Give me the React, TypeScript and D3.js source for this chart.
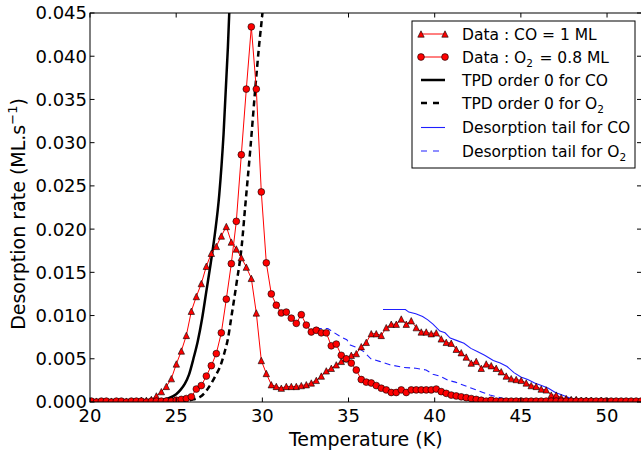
import React from 'react';
import * as d3 from 'd3';

// Sample temperatures (K) shared by both measured series
const temperatureK = [
  20.08, 20.37, 20.66, 20.95, 21.24, 21.53, 21.82, 22.11, 22.40, 22.69,
  22.98, 23.27, 23.56, 23.85, 24.14, 24.43, 24.72, 25.01, 25.30, 25.59,
  25.88, 26.17, 26.46, 26.75, 27.04, 27.33, 27.62, 27.91, 28.20, 28.49,
  28.78, 29.07, 29.36, 29.65, 29.94, 30.23, 30.52, 30.81, 31.10, 31.39,
  31.68, 31.97, 32.26, 32.55, 32.84, 33.13, 33.42, 33.71, 34.00, 34.29,
  34.58, 34.87, 35.16, 35.45, 35.74, 36.03, 36.32, 36.61, 36.90, 37.19,
  37.48, 37.77, 38.06, 38.35, 38.64, 38.93, 39.22, 39.51, 39.80, 40.09,
  40.38, 40.67, 40.96, 41.25, 41.54, 41.83, 42.12, 42.41, 42.70, 42.99,
  43.28, 43.57, 43.86, 44.15, 44.44, 44.73, 45.02, 45.31, 45.60, 45.89,
  46.18, 46.47, 46.76, 47.05, 47.34, 47.63, 47.92, 48.21, 48.50, 48.79,
  49.08, 49.37, 49.66, 49.95, 50.24, 50.53, 50.82, 51.11, 51.40, 51.69,
  51.98,
];

// Measured desorption rate, CO = 1 ML (ML/s)
const coRate = [
  0.0001, 0.0001, 0.0000, 0.0001, 0.0001, 0.0001, 0.0000, 0.0001, 0.0001, 0.0001,
  0.0002, 0.0002, 0.0003, 0.0007, 0.0012, 0.0018, 0.0027, 0.0044, 0.0059, 0.0077,
  0.0105, 0.0122, 0.0137, 0.0157, 0.0172, 0.0180, 0.0192, 0.0203, 0.0185, 0.0177,
  0.0167, 0.0156, 0.0143, 0.0103, 0.0048, 0.0033, 0.0020, 0.0018, 0.0016, 0.0018,
  0.0018, 0.0018, 0.0019, 0.0020, 0.0022, 0.0025, 0.0030, 0.0036, 0.0039, 0.0043,
  0.0047, 0.0050, 0.0054, 0.0056, 0.0064, 0.0069, 0.0079, 0.0079, 0.0077, 0.0086,
  0.0090, 0.0090, 0.0096, 0.0090, 0.0094, 0.0086, 0.0081, 0.0081, 0.0079, 0.0080,
  0.0073, 0.0069, 0.0068, 0.0061, 0.0057, 0.0052, 0.0045, 0.0047, 0.0039, 0.0044,
  0.0042, 0.0039, 0.0035, 0.0030, 0.0027, 0.0026, 0.0025, 0.0022, 0.0019, 0.0018,
  0.0015, 0.0014, 0.0008, 0.0008, 0.0005, 0.0004, 0.0003, 0.0003, 0.0002, 0.0002,
  0.0002, 0.0001, 0.0002, 0.0001, 0.0001, 0.0001, 0.0001, 0.0001, 0.0001, 0.0001,
  0.0001,
];

// Measured desorption rate, O2 = 0.8 ML (ML/s)
const o2Rate = [
  0.0001, 0.0000, 0.0001, 0.0001, 0.0000, 0.0001, 0.0001, 0.0000, 0.0001, 0.0001,
  0.0001, 0.0000, 0.0001, 0.0001, 0.0001, 0.0001, 0.0001, 0.0002, 0.0003, 0.0004,
  0.0006, 0.0015, 0.0019, 0.0030, 0.0042, 0.0056, 0.0080, 0.0119, 0.0160, 0.0209,
  0.0286, 0.0362, 0.0434, 0.0362, 0.0243, 0.0161, 0.0125, 0.0112, 0.0103, 0.0104,
  0.0097, 0.0091, 0.0101, 0.0089, 0.0081, 0.0083, 0.0080, 0.0080, 0.0065, 0.0067,
  0.0054, 0.0050, 0.0045, 0.0037, 0.0026, 0.0023, 0.0022, 0.0019, 0.0016, 0.0014,
  0.0011, 0.0011, 0.0014, 0.0011, 0.0014, 0.0014, 0.0014, 0.0014, 0.0014, 0.0015,
  0.0012, 0.0010, 0.0008, 0.0007, 0.0006, 0.0005, 0.0004, 0.0003, 0.0002, 0.0001,
  0.0002, 0.0001, 0.0001, 0.0001, 0.0001, 0.0001, 0.0001, 0.0001, 0.0001, 0.0001,
  0.0001, 0.0001, 0.0001, 0.0001, 0.0001, 0.0001, 0.0001, 0.0001, 0.0001, 0.0001,
  0.0001, 0.0001, 0.0001, 0.0001, 0.0001, 0.0001, 0.0001, 0.0001, 0.0001, 0.0001,
  0.0001,
];

// Zero-order TPD model, CO
const tpdCoT = [20.0, 22.0, 23.0, 23.5, 24.0, 24.5, 25.0, 25.25, 25.5, 25.75, 26.0, 26.25, 26.5, 26.75, 27.0, 27.25, 27.5, 27.75, 28.0, 28.1, 28.2];
const tpdCoRate = [0.0, 0.0, 0.0001, 0.0001, 0.0002, 0.0004, 0.0009, 0.0014, 0.0021, 0.0032, 0.0050, 0.0070, 0.0096, 0.0128, 0.0160, 0.0195, 0.0240, 0.0310, 0.0410, 0.0460, 0.0520];

// Zero-order TPD model, O2
const tpdO2T = [20.0, 23.0, 25.0, 25.5, 26.0, 26.4, 26.75, 27.05, 27.3, 27.55, 27.8, 28.0, 28.2, 28.5, 28.8, 29.0, 29.3, 29.6, 29.8, 30.05, 30.2];
const tpdO2Rate = [0.0, 0.0, 0.0, 0.0001, 0.0003, 0.0006, 0.0013, 0.0022, 0.0031, 0.0041, 0.0057, 0.0073, 0.0098, 0.0137, 0.0180, 0.0225, 0.0292, 0.0365, 0.0410, 0.0460, 0.0500];

// Desorption tail, CO
const tailCoT = [37.0, 38.3, 38.5, 38.9, 39.3, 39.6, 39.9, 40.3, 40.6, 40.9, 41.3, 41.7, 42.1, 42.5, 42.9, 43.4, 43.8, 44.2, 44.6, 45.0, 45.4, 45.8, 46.2, 46.6, 47.0, 47.4, 47.8, 48.2, 48.8, 49.5, 52.0];
const tailCoRate = [0.0107, 0.0107, 0.0104, 0.0102, 0.0099, 0.0095, 0.0090, 0.0082, 0.0080, 0.0074, 0.0071, 0.0068, 0.0062, 0.0058, 0.0054, 0.0048, 0.0045, 0.0041, 0.0034, 0.0029, 0.0026, 0.0022, 0.0019, 0.0016, 0.0011, 0.0008, 0.0005, 0.0003, 0.0002, 0.0001, 0.0001];

// Desorption tail, O2
const tailO2T = [33.1, 33.8, 34.1, 34.5, 34.9, 35.1, 35.6, 35.9, 36.3, 36.8, 37.4, 38.2, 38.9, 39.5, 39.9, 40.3, 40.8, 41.2, 41.6, 42.0, 42.4, 42.8, 43.2, 43.6, 44.0, 44.5, 45.5, 52.0];
const tailO2Rate = [0.0085, 0.0085, 0.0081, 0.0076, 0.0072, 0.0066, 0.0062, 0.0058, 0.0050, 0.0047, 0.0043, 0.0040, 0.0039, 0.0037, 0.0032, 0.0030, 0.0025, 0.0023, 0.0020, 0.0017, 0.0014, 0.0011, 0.0008, 0.0006, 0.0004, 0.0002, 0.0001, 0.0001];

const xTicks = [20, 25, 30, 35, 40, 45, 50];
const yTicks = [0, 0.005, 0.01, 0.015, 0.02, 0.025, 0.03, 0.035, 0.04, 0.045];

const W = 641;
const H = 453;
const left = 90;
const right = 641.5;
const top = 13;
const bottom = 402;
const FONT = 'DejaVu Sans, Verdana, sans-serif';
const BLUE = '#1f1fff';

const x = d3.scaleLinear().domain([20, 52]).range([left, right]);
const y = d3.scaleLinear().domain([0, 0.045]).range([bottom, top]);

type Pt = [number, number];
const zip = (ts: number[], vs: number[]): Pt[] => ts.map((t, i) => [t, vs[i]]);

const lineLin = d3.line<Pt>().x((d) => x(d[0])).y((d) => y(d[1]));
const lineSmooth = d3
  .line<Pt>()
  .x((d) => x(d[0]))
  .y((d) => y(d[1]))
  .curve(d3.curveMonotoneX);

const coPts = zip(temperatureK, coRate);
const o2Pts = zip(temperatureK, o2Rate);

const triPath = (s: number) => `M0,${-s}L${s},${s}L${-s},${s}Z`;

function Triangle({ cx, cy }: { cx: number; cy: number }) {
  return (
    <path
      d={triPath(3.2)}
      transform={`translate(${cx},${cy})`}
      fill="#ff0000"
      stroke="#000"
      strokeWidth={0.6}
    />
  );
}

function Dot({ cx, cy }: { cx: number; cy: number }) {
  return <circle cx={cx} cy={cy} r={3.4} fill="#ff0000" stroke="#000" strokeWidth={0.6} />;
}

function Sub({ children }: { children: React.ReactNode }) {
  return (
    <>
      <tspan fontSize={10.5} dy={4}>
        {children}
      </tspan>
      <tspan dy={-4}>{'\u200A'}</tspan>
    </>
  );
}

export default function App() {
  const legendX = 412;
  const legendY = 21;
  const rowY = [34, 57, 80, 103, 127.5, 151];
  const hx0 = 421;
  const hx1 = 445;
  const tx = 462;

  return (
    <svg
      width={W}
      height={H}
      viewBox={`0 0 ${W} ${H}`}
      style={{ position: 'absolute', left: 0, top: 0, background: '#fff' }}
      fontFamily={FONT}
    >
      <defs>
        <clipPath id="plot-area">
          <rect x={left} y={top} width={right - left} height={bottom - top} />
        </clipPath>
      </defs>
      <rect x={0} y={0} width={W} height={H} fill="#fff" />

      <g clipPath="url(#plot-area)">
        {/* zero-order TPD models */}
        <path d={lineSmooth(zip(tpdCoT, tpdCoRate)) || ''} fill="none" stroke="#000" strokeWidth={2.5} />
        <path
          d={lineSmooth(zip(tpdO2T, tpdO2Rate)) || ''}
          fill="none"
          stroke="#000"
          strokeWidth={2.5}
          strokeDasharray="6,4"
        />
        {/* desorption tails */}
        <path d={lineLin(zip(tailCoT, tailCoRate)) || ''} fill="none" stroke={BLUE} strokeWidth={1.1} />
        <path
          d={lineLin(zip(tailO2T, tailO2Rate)) || ''}
          fill="none"
          stroke={BLUE}
          strokeWidth={1.1}
          strokeDasharray="6,4"
        />
        {/* measured data */}
        <path d={lineLin(coPts) || ''} fill="none" stroke="#ff0000" strokeWidth={1} />
        {coPts.map((d, i) => (
          <Triangle key={`co${i}`} cx={x(d[0])} cy={y(d[1])} />
        ))}
        <path d={lineLin(o2Pts) || ''} fill="none" stroke="#ff0000" strokeWidth={1} />
        {o2Pts.map((d, i) => (
          <Dot key={`o2${i}`} cx={x(d[0])} cy={y(d[1])} />
        ))}
      </g>

      {/* frame */}
      <rect x={left} y={top} width={right - left} height={bottom - top} fill="none" stroke="#000" strokeWidth={1} />

      {/* x ticks */}
      {xTicks.map((t) => (
        <g key={`xt${t}`}>
          <line x1={x(t)} x2={x(t)} y1={bottom} y2={bottom - 4.5} stroke="#000" />
          <line x1={x(t)} x2={x(t)} y1={top} y2={top + 4.5} stroke="#000" />
          <text x={x(t)} y={422} fontSize={18} textAnchor="middle" fill="#000">
            {t}
          </text>
        </g>
      ))}
      {/* y ticks */}
      {yTicks.map((t) => (
        <g key={`yt${t}`}>
          <line x1={left} x2={left + 4.5} y1={y(t)} y2={y(t)} stroke="#000" />
          <line x1={right} x2={right - 4.5} y1={y(t)} y2={y(t)} stroke="#000" />
          <text x={87} y={y(t)} dy="0.36em" fontSize={18} textAnchor="end" fill="#000">
            {t.toFixed(3)}
          </text>
        </g>
      ))}

      {/* axis titles */}
      <text x={(left + right) / 2} y={446} fontSize={19} textAnchor="middle" fill="#000">
        Temperature (K)
      </text>
      <text transform="translate(25,214) rotate(-90)" fontSize={19} textAnchor="middle" fill="#000">
        Desorption rate (ML.s
        <tspan fontSize={13} dy={-8}>
          {'\u22121'}
        </tspan>
        <tspan dy={8}>)</tspan>
      </text>

      {/* legend */}
      <rect x={legendX} y={legendY} width={223} height={147} fill="#fff" stroke="#000" strokeWidth={1} />
      <line x1={hx0} x2={hx1} y1={rowY[0]} y2={rowY[0]} stroke="#ff0000" strokeWidth={1} />
      <Triangle cx={hx0} cy={rowY[0]} />
      <Triangle cx={hx1} cy={rowY[0]} />
      <line x1={hx0} x2={hx1} y1={rowY[1]} y2={rowY[1]} stroke="#ff0000" strokeWidth={1} />
      <Dot cx={hx0} cy={rowY[1]} />
      <Dot cx={hx1} cy={rowY[1]} />
      <line x1={hx0} x2={hx1} y1={rowY[2]} y2={rowY[2]} stroke="#000" strokeWidth={2.5} />
      <line x1={hx0} x2={hx1} y1={rowY[3]} y2={rowY[3]} stroke="#000" strokeWidth={2.5} strokeDasharray="6,6" />
      <line x1={hx0} x2={hx1} y1={rowY[4]} y2={rowY[4]} stroke={BLUE} strokeWidth={1.1} />
      <line x1={hx0} x2={hx1} y1={rowY[5]} y2={rowY[5]} stroke={BLUE} strokeWidth={1.1} strokeDasharray="6,6" />

      <g fontSize={15.5} fill="#000">
        <text x={tx} y={rowY[0]} dy="0.36em">
          Data : CO = 1 ML
        </text>
        <text x={tx} y={rowY[1]} dy="0.36em">
          Data : O<Sub>2</Sub> = 0.8 ML
        </text>
        <text x={tx} y={rowY[2]} dy="0.36em">
          TPD order 0 for CO
        </text>
        <text x={tx} y={rowY[3]} dy="0.36em">
          TPD order 0 for O<Sub>2</Sub>
        </text>
        <text x={tx} y={rowY[4]} dy="0.36em">
          Desorption tail for CO
        </text>
        <text x={tx} y={rowY[5]} dy="0.36em">
          Desorption tail for O<Sub>2</Sub>
        </text>
      </g>
    </svg>
  );
}
